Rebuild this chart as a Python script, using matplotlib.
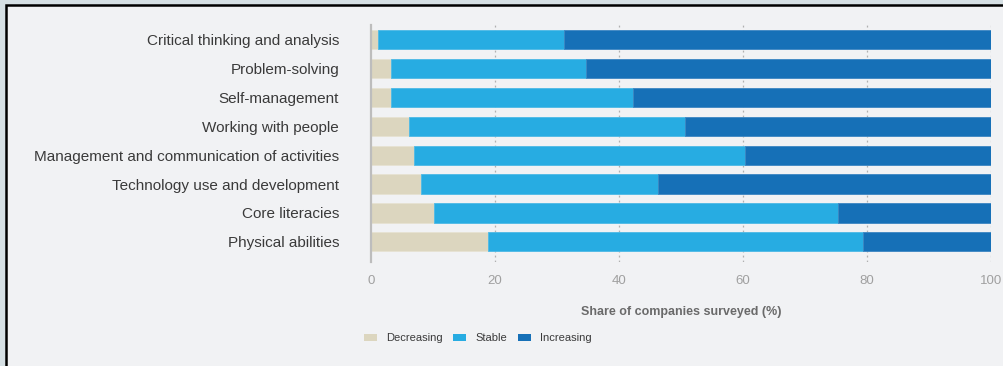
import matplotlib
matplotlib.use('Agg')
import matplotlib.pyplot as plt
from matplotlib.patches import Rectangle, Patch
import numpy as np

plt.rcParams['font.family'] = ['Liberation Sans', 'DejaVu Sans']

skills = ['Critical thinking and analysis', 'Problem-solving', 'Self-management',
          'Working with people', 'Management and communication of activities',
          'Technology use and development', 'Core literacies', 'Physical abilities']
decreasing = [1.1, 3.2, 3.2, 6.2, 7.0, 8.1, 10.2, 18.9]
stable = [30.0, 31.5, 39.0, 44.5, 53.3, 38.2, 65.1, 60.5]
increasing = [68.9, 65.3, 57.8, 49.3, 39.7, 53.7, 24.7, 20.6]
ticks = [0, 20, 40, 60, 80, 100]

C_DEC = '#dcd6bf'
C_STA = '#27ace2'
C_INC = '#1670b7'
BG = '#f1f2f4'

W, H = 1004, 366
fig = plt.figure(figsize=(W / 100, H / 100), dpi=100)
fig.patch.set_facecolor('#d6e0e4')

# inner panel with black frame (screenshot crop)
bg = fig.add_axes([0, 0, 1, 1], zorder=-10)
bg.set_xlim(0, W); bg.set_ylim(H, 0); bg.axis('off')
bg.add_patch(Rectangle((6.5, 5.2), W + 20, H + 20, fc=BG, ec='black', lw=1.8))

ax = fig.add_axes([371 / W, 1 - 262 / H, 620 / W, (262 - 25.3) / H])
ax.set_facecolor('none')

y = np.arange(len(skills))
left2 = np.array(decreasing)
left3 = left2 + np.array(stable)
bh = 0.67
ax.barh(y, decreasing, height=bh, color=C_DEC, ec='#e6e2d2', lw=0.6, zorder=3)
ax.barh(y, stable, left=left2, height=bh, color=C_STA, ec='#4cb9e6', lw=0.6, zorder=3)
ax.barh(y, increasing, left=left3, height=bh, color=C_INC, ec='#3c86c2', lw=0.6, zorder=3)

ax.set_xlim(0, 100)
ax.set_ylim(len(skills) - 0.3, -0.5)
ax.set_yticks(y)
ax.set_yticklabels(skills, fontsize=11, color='#3a3a3a')
ax.tick_params(axis='y', length=0, pad=23)
ax.set_xticks(ticks)
ax.set_xticklabels([str(t) for t in ticks], fontsize=9.5, color='#a0a0a0')
ax.tick_params(axis='x', length=0, pad=9)

for t in ticks[1:]:
    ax.axvline(t, color='#b0b0b0', lw=0.9, ls=(0, (1.5, 2.5)), zorder=1)

for s in ['top', 'right', 'bottom']:
    ax.spines[s].set_visible(False)
ax.spines['left'].set_color('#bdbdbd')
ax.spines['left'].set_linewidth(1.6)
ax.spines['left'].set_zorder(4)

ax.set_xlabel('Share of companies surveyed (%)', fontsize=9, color='#6a6a6a',
              fontweight='bold', labelpad=14)

handles = [Patch(fc=C_DEC, ec='none'), Patch(fc=C_STA, ec='none'),
           Patch(fc=C_INC, ec='none')]
fig.legend(handles, ['Decreasing', 'Stable', 'Increasing'], ncol=3,
           loc='center left', bbox_to_anchor=(354 / W, 1 - 338 / H),
           frameon=False, fontsize=8, handlelength=1.15, handleheight=0.6,
           handletextpad=0.8, columnspacing=1.0, labelcolor='#3a3a3a')

fig.savefig('out.png', dpi=100, facecolor=fig.get_facecolor())
